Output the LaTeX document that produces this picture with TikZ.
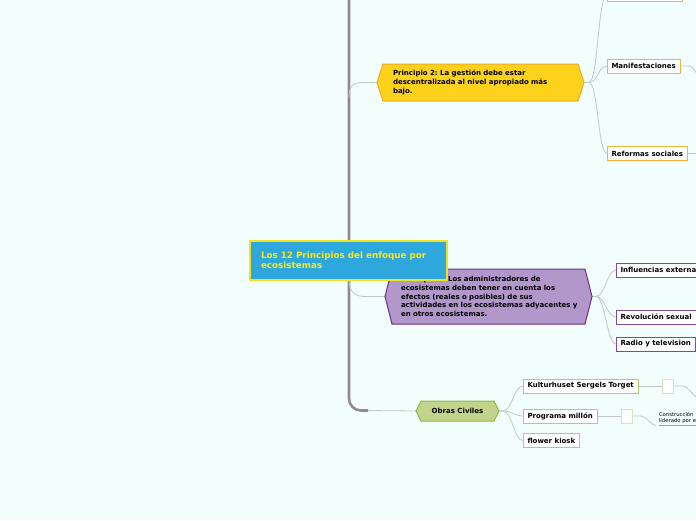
\documentclass[tikz,border=0pt]{standalone}
\usepackage{fontspec}
\setmainfont{DejaVu Sans}
\usetikzlibrary{calc}
\frenchspacing
\definecolor{bg}{HTML}{F2FEFC}
\definecolor{cblue}{HTML}{2EA8DC}
\definecolor{cyel}{HTML}{F2E21E}
\definecolor{ytext}{HTML}{FFE619}
\definecolor{ptwofill}{HTML}{FCD21C}
\definecolor{ptwoline}{HTML}{F6A623}
\definecolor{oline}{HTML}{F8B040}
\definecolor{pthreefill}{HTML}{B298CA}
\definecolor{pthreeline}{HTML}{6B2D90}
\definecolor{pline}{HTML}{7D4CA2}
\definecolor{gfill}{HTML}{C2D48C}
\definecolor{gline}{HTML}{8DB84A}
\definecolor{gbox}{HTML}{A9D16F}
\definecolor{gsmall}{HTML}{D5E6B5}
\definecolor{conn}{HTML}{C2C8C8}
\definecolor{trunkc}{HTML}{8E8A8E}
\pgfdeclarelayer{bgl}
\pgfdeclarelayer{conl}
\pgfdeclarelayer{hexl}
\pgfsetlayers{bgl,conl,hexl,main}
\newcommand{\hexshape}[3]{%
  \begin{pgfonlayer}{hexl}
  \draw[#3] (#1.west) -- ([xshift=#2]#1.north west) -- ([xshift=-#2]#1.north east)
     -- (#1.east) -- ([xshift=-#2]#1.south east) -- ([xshift=#2]#1.south west) -- cycle;
  \end{pgfonlayer}}
\tikzset{
  hexnode/.style={draw=none, outer sep=0pt, inner ysep=0pt, align=left,
     font=\fontsize{7}{8.6}\selectfont\bfseries, anchor=north west},
  childbox/.style={draw, fill=white, line width=1pt, outer sep=0pt, inner xsep=4.5pt,
     inner ysep=0pt, minimum height=14pt, anchor=west,
     font=\fontsize{7}{8}\selectfont\bfseries},
  smallbox/.style={draw=gsmall, fill=white, line width=0.9pt, outer sep=0pt,
     minimum width=11pt, minimum height=14pt, inner sep=0pt, anchor=west},
  connector/.style={draw=conn, line width=0.8pt},
  trunkline/.style={draw=trunkc, line width=2.6pt},
}
\begin{document}
\begin{tikzpicture}[x=1pt,y=-1pt]
\begin{pgfonlayer}{bgl}
\fill[bg] (0,0) rectangle (696,520);
\end{pgfonlayer}
\useasboundingbox (0,0) rectangle (696,520);
\clip (0,0) rectangle (696,520);

% ---------- Principio 2 ----------
\node[hexnode, minimum width=207pt, minimum height=37pt, text width=175pt, inner xsep=16pt]
  (p2) at (377,64) {Principio 2: La gestión debe estar\\descentralizada al nivel apropiado más\\bajo.};
\hexshape{p2}{6}{fill=ptwofill, draw=ptwoline, line width=1pt}

\node[childbox, draw=oline, minimum width=75pt] (ob0) at (607,-5.5) {};
\node[childbox, draw=oline] (man) at (607,66) {Manifestaciones};
\node[childbox, draw=oline] (ref) at (607,153.5) {Reformas sociales};

% ---------- Principio 3 ----------
\node[hexnode, font=\fontsize{7}{8.7}\selectfont\bfseries, minimum width=207pt, minimum height=55pt, text width=175pt, inner xsep=16pt]
  (p3) at (385,269) {Principio 3: Los administradores de\\ecosistemas deben tener en cuenta los\\efectos (reales o posibles) de sus\\\mbox{actividades en los ecosistemas adyacentes y}\\en otros ecosistemas.};
\hexshape{p3}{7}{fill=pthreefill, draw=pthreeline, line width=1pt}

\node[childbox, draw=pline] (inf) at (616,270) {Influencias externas};
\node[childbox, draw=pline] (rev) at (616,317) {Revolución sexual};
\node[childbox, draw=pline] (rad) at (616,344) {Radio y television};

% ---------- Central ----------
\node[draw=cyel, fill=cblue, line width=1.2pt, anchor=north west, outer sep=0pt,
      minimum width=197pt, minimum height=39pt, text width=175pt, inner xsep=11pt,
      align=left, text=ytext, font=\fontsize{8.8}{10.4}\selectfont\bfseries]
  (main) at (250,241) {Los 12 Principios del enfoque por\\ecosistemas};

% ---------- Obras Civiles ----------
\node[hexnode, minimum width=83pt, minimum height=20pt, align=center, anchor=west]
  (obr) at (416,411) {Obras Civiles};
\hexshape{obr}{5}{fill=gfill, draw=gline, line width=1pt}

\node[childbox, draw=gbox] (kst) at (523,386) {Kulturhuset Sergels Torget};
\node[childbox, draw=gbox] (pmi) at (523,416) {Programa millón};
\node[childbox, draw=gbox] (flk) at (523,440.5) {flower kiosk};
\node[smallbox] (sb1) at (662,386) {};
\node[smallbox] (sb2) at (621,416) {};
\node[anchor=south west, inner xsep=3pt, inner ysep=1.5pt, outer sep=0pt, align=left,
      font=\fontsize{5.3}{6.4}\selectfont] (con) at (656,425.5) {Construcción\\liderado por el};

% ---------- connectors ----------
\coordinate (ttop) at (349,-5);
\coordinate (tend) at (368,410.5);
\coordinate (b2) at (349,97);
\coordinate (b3) at (349,280);
\coordinate (e1) at (700,12);
\coordinate (e2) at (700,75);
\coordinate (e3) at (700,153.5);
\coordinate (e4) at (700,399);
\begin{pgfonlayer}{conl}
\draw[trunkline, rounded corners=12pt] (ttop) |- (tend);
\draw[connector] (tend) -- (obr.west);
\draw[connector] (b2) .. controls +(0,-12) and +(-9,0) .. ([xshift=-14]p2.west) -- (p2.west);
\draw[connector] (b3) .. controls +(0,12) and +(-10,0) .. ([xshift=-20]p3.west) -- (p3.west);
\foreach \c in {ob0,man,ref}
  \draw[connector] (p2.east) -- ++(5,0) .. controls +(9,0) and +(-9,0) .. (\c.west);
\foreach \c in {inf,rev,rad}
  \draw[connector] (p3.east) -- ++(4,0) .. controls +(9,0) and +(-9,0) .. (\c.west);
\foreach \c in {kst,pmi,flk}
  \draw[connector] (obr.east) -- ++(4,0) .. controls +(9,0) and +(-9,0) .. (\c.west);
\draw[connector] (ob0.east) -- ++(7,0) .. controls +(5,0) and +(0,-8) .. (e1);
\draw[connector] (man.east) -- ++(9,0) .. controls +(5,0) and +(-5,0) .. (e2);
\draw[connector] (ref.east) -- (e3);
\draw[connector] (kst.east) -- (sb1.west);
\draw[connector] (sb1.east) -- ++(10,0) .. controls +(5,0) and +(-5,0) .. (e4);
\draw[connector] (pmi.east) -- (sb2.west);
\draw[connector] (sb2.east) -- ++(9,0) .. controls +(5,0) and +(-5,0) .. (con.south west);
\end{pgfonlayer}
\draw[gline, line width=0.9pt] ([xshift=3]con.south west) -- (con.south east);
\end{tikzpicture}
\end{document}
